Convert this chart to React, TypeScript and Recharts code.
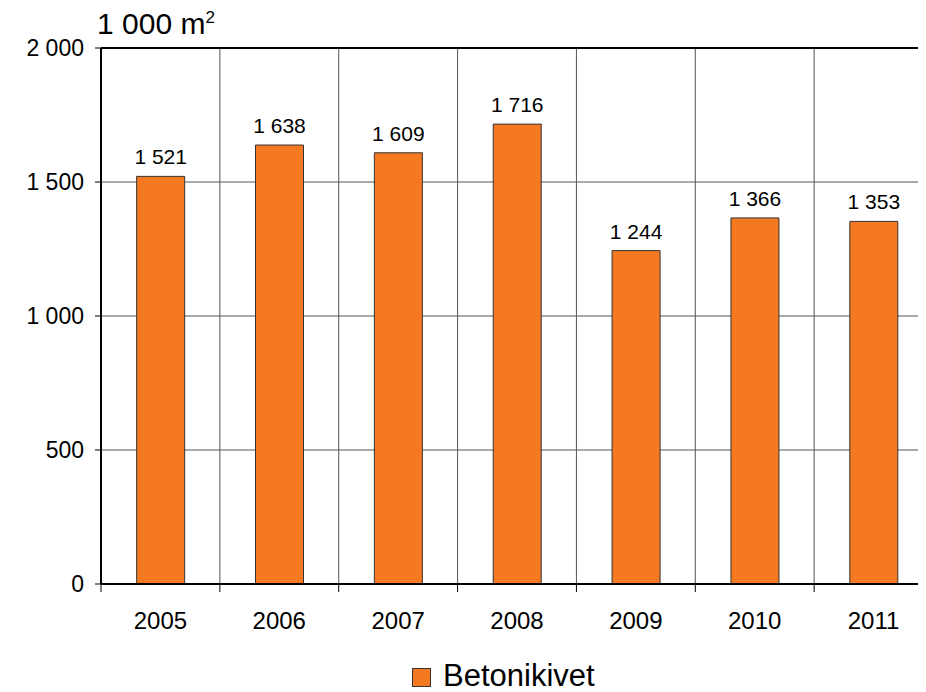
import {
  BarChart,
  Bar,
  XAxis,
  YAxis,
  CartesianGrid,
  LabelList,
  ReferenceLine,
} from "recharts";

const YEARS = ["2005", "2006", "2007", "2008", "2009", "2010", "2011"];
const BETONIKIVET = [1521, 1638, 1609, 1716, 1244, 1366, 1353];
const Y_TICKS = [0, 500, 1000, 1500, 2000];
const SERIES_NAME = "Betonikivet";
const UNIT = "1 000 m";

const ORANGE = "#F47920";
const FONT = "Arial, 'Liberation Sans', Helvetica, sans-serif";

const CHART_W = 930;
const CHART_H = 684;
const MARGIN = { top: 40, right: 5, bottom: 0, left: 0 };
const Y_W = 93;
const PLOT_H = 536;
const PLOT_W = CHART_W - MARGIN.right - MARGIN.left - Y_W;
const STEP = PLOT_W / YEARS.length;

const data = YEARS.map((year, i) => ({ year, value: BETONIKIVET[i] }));

const fmt = (n: number) =>
  String(n).replace(/\B(?=(\d{3})+(?!\d))/g, " ");

// year label in the middle of each column, tick marks on the column borders
function YearTick(props: any) {
  const { x, y, payload, index } = props;
  const left = x - STEP / 2;
  const right = x + STEP / 2;
  return (
    <g>
      <line x1={left} x2={left} y1={y} y2={y + 8} stroke="#000" />
      {index === YEARS.length - 1 && (
        <line x1={right} x2={right} y1={y} y2={y + 8} stroke="#000" />
      )}
      <text
        x={x}
        y={y + 45}
        textAnchor="middle"
        fontSize={24}
        fontFamily={FONT}
        fill="#000"
      >
        {payload.value}
      </text>
    </g>
  );
}

function UnitLabel(props: any) {
  const vb = props.viewBox || { x: 0, y: MARGIN.top, width: Y_W };
  return (
    <text
      x={vb.x + vb.width - 4}
      y={vb.y - 14}
      fontSize={30}
      fontFamily={FONT}
      fill="#000"
    >
      {UNIT}
      <tspan fontSize={17} dy={-11}>
        2
      </tspan>
    </text>
  );
}

const columnBorders = ({ offset }: any) =>
  YEARS.map((_, i) => offset.left + (i * offset.width) / YEARS.length).concat(
    offset.left + offset.width
  );

export default function App() {
  return (
    <div
      style={{
        position: "relative",
        width: 918,
        height: CHART_H,
        overflow: "hidden",
        fontFamily: FONT,
      }}
    >
      <BarChart
        width={CHART_W}
        height={CHART_H}
        data={data}
        margin={MARGIN}
        barCategoryGap="30%"
      >
        <CartesianGrid
          stroke="#555"
          strokeWidth={1}
          verticalCoordinatesGenerator={columnBorders}
        />
        <XAxis
          dataKey="year"
          interval={0}
          height={CHART_H - MARGIN.top - PLOT_H}
          axisLine={{ stroke: "#000", strokeWidth: 2 }}
          tickLine={false}
          tickSize={0}
          tickMargin={0}
          tick={<YearTick />}
        />
        <YAxis
          width={Y_W}
          domain={[0, 2000]}
          ticks={Y_TICKS}
          interval={0}
          tickFormatter={fmt}
          axisLine={{ stroke: "#000", strokeWidth: 2 }}
          tickLine={{ stroke: "#000", strokeWidth: 1 }}
          tickSize={6}
          tickMargin={11}
          tick={{ fill: "#000", fontSize: 23, fontFamily: FONT }}
          label={<UnitLabel />}
        />
        <ReferenceLine y={2000} stroke="#000" strokeWidth={2} />
        <Bar
          dataKey="value"
          name={SERIES_NAME}
          fill={ORANGE}
          stroke="#333"
          strokeWidth={1}
          isAnimationActive={false}
        >
          <LabelList
            dataKey="value"
            position="top"
            offset={12}
            formatter={(v: any) => fmt(Number(v))}
            style={{ fill: "#000", fontSize: 21, fontFamily: FONT }}
          />
        </Bar>
      </BarChart>
      <div
        style={{
          position: "absolute",
          left: 404,
          top: 660,
          width: 19,
          height: 19,
          boxSizing: "border-box",
          background: ORANGE,
          border: "1px solid #333",
        }}
      />
      <div
        style={{
          position: "absolute",
          left: 435,
          top: 655,
          fontSize: 31,
          lineHeight: "26px",
          color: "#000",
          whiteSpace: "nowrap",
        }}
      >
        {SERIES_NAME}
      </div>
    </div>
  );
}
